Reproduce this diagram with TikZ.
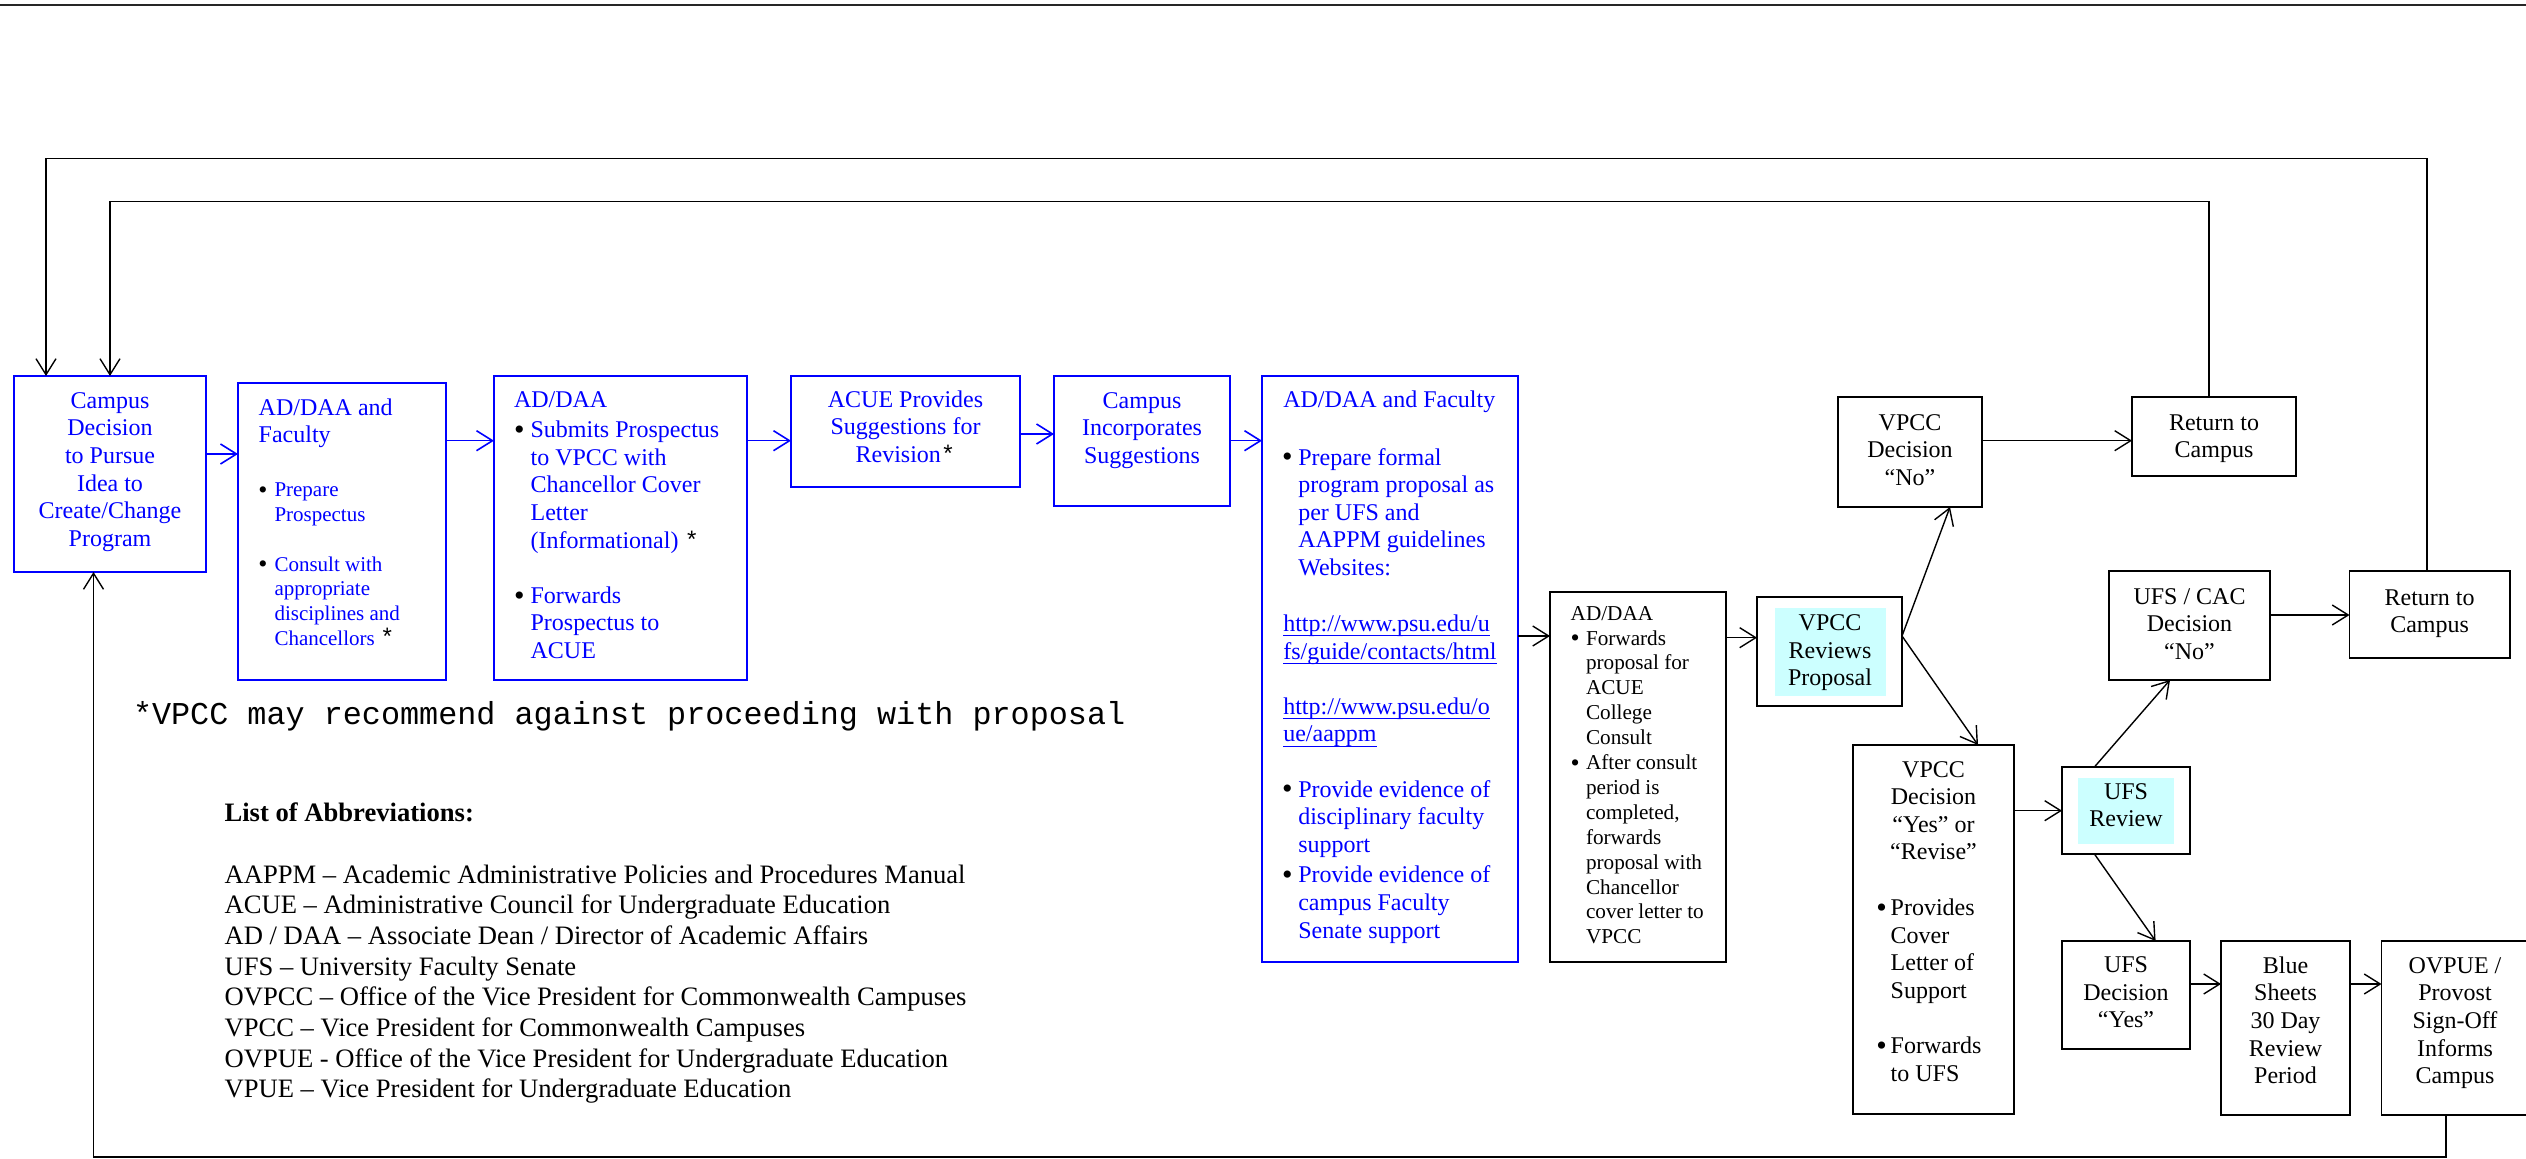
\documentclass[tikz,border=0pt]{standalone}
\usepackage{fontspec}
\setmainfont{Liberation Serif}
\newfontfamily\mono{Liberation Mono}
\usetikzlibrary{arrows.meta,fit}
\definecolor{wblue}{RGB}{0,0,255}
\definecolor{wcyan}{RGB}{204,255,255}
\newcommand\mybul[2]{\llap{\raisebox{-0.9pt}{\fontsize{#2}{0}\selectfont\textcolor{black}{•}}\hspace{#1}}}
\newcommand\myast{{\color{black}\mono\fontsize{12}{13.8}\selectfont *}}
\newcommand\myul[1]{\setbox0\hbox{#1}\rlap{\copy0}\rule[-2.4pt]{\wd0}{0.6pt}}
\begin{document}
\begin{tikzpicture}[x=0.5pt,y=-0.5pt,
  bluebox/.style={draw=wblue,line width=1pt,inner sep=0pt,outer sep=0pt},
  blackbox/.style={draw=black,line width=0.85pt,inner sep=0pt,outer sep=0pt},
  cyanpad/.style={fill=wcyan,inner sep=0pt,outer sep=0pt},
  tx/.style={inner sep=0pt,outer sep=0pt},
  ftw/.style={font=\fontsize{12}{13.8}\selectfont},
  fsm/.style={font=\fontsize{10.5}{12.4}\selectfont},
  fmd/.style={font=\fontsize{10.6}{12.45}\selectfont},
  ctr/.style={tx,ftw,anchor=north,align=center},
  lft/.style={tx,anchor=north west,align=left},
  arr/.style={line width=0.7pt,draw=black,-{Straight Barb[length=8pt,width=10pt]}},
  barr/.style={arr,draw=wblue,line width=0.8pt}
]
\fill[white] (0,0) rectangle (2526,1159);
\useasboundingbox (0,0) rectangle (2526,1159);
\clip (0,0) rectangle (2526,1159);

% top rule
\coordinate (tl) at (0,5);
\coordinate (tr) at (2526,5);
\draw[line width=0.65pt,black!85] (tl) -- (tr);

% boxes
\node[bluebox,fit={(14,376) (206,572)}] (b1) {};
\node[bluebox,fit={(238,383) (446,680)}] (b2) {};
\node[bluebox,fit={(494,376) (747,680)}] (b3) {};
\node[bluebox,fit={(791,376) (1020,487)}] (b4) {};
\node[bluebox,fit={(1054,376) (1230,506)}] (b5) {};
\node[bluebox,fit={(1262,376) (1518,962)}] (b6) {};
\node[blackbox,fit={(1550,592) (1726,962)}] (b7) {};
\node[cyanpad,fit={(1775,608) (1886,696)}] (c8) {};
\node[blackbox,fit={(1757,597) (1902,706)}] (b8) {};
\node[blackbox,fit={(1838,397) (1982,507)}] (b9) {};
\node[blackbox,fit={(2132,397) (2296,476)}] (b10) {};
\node[blackbox,fit={(1853,745) (2014,1114)}] (b11) {};
\node[cyanpad,fit={(2078,778) (2174,844)}] (c12) {};
\node[blackbox,fit={(2062,767) (2190,854)}] (b12) {};
\node[blackbox,fit={(2109,571) (2270,680)}] (b13) {};
\node[blackbox,fit={(2349.5,571) (2509.7,658)}] (b14) {};
\node[blackbox,fit={(2062,941) (2190,1049)}] (b15) {};
\node[blackbox,fit={(2221,941) (2350,1115)}] (b16) {};
\node[blackbox,fit={(2381.5,941) (2533,1115)}] (b17) {};

% texts
\node[ctr,text=wblue] (t1) at (110,389) {\strut Campus\\Decision\\to Pursue\\Idea to\\Create/Change\\Program};

\node[lft,ftw,text=wblue] (t2a) at (258.7,395.7) {\strut AD/DAA and\\Faculty};
\node[lft,fsm,text=wblue] (t2b) at (274.5,479.3) {\strut\mybul{3.5pt}{13}Prepare\\Prospectus\\[12.4pt]\mybul{3.5pt}{13}Consult with\\appropriate\\disciplines and\\Chancellors \myast};

\node[lft,ftw,text=wblue] (t3a) at (514,388.4) {\strut AD/DAA};
\node[lft,ftw,text=wblue] (t3b) at (530.6,418.4) {\strut\mybul{3pt}{15}Submits Prospectus\\to VPCC with\\Chancellor Cover\\Letter\\(Informational) \myast\\[13.8pt]\mybul{3pt}{15}Forwards\\Prospectus to\\ACUE};

\node[ctr,text=wblue] (t4) at (905.5,388) {\strut ACUE Provides\\Suggestions for\\Revision\myast};
\node[ctr,text=wblue] (t5) at (1142,389) {\strut Campus\\Incorporates\\Suggestions};

\node[lft,ftw,text=wblue] (t6a) at (1283.3,388.4) {\strut AD/DAA and Faculty};
\node[lft,ftw,text=wblue] (t6b) at (1298.3,445.7) {\strut\mybul{2.9pt}{15}Prepare formal\\program proposal as\\per UFS and\\AAPPM guidelines\\Websites:};
\node[lft,ftw,text=wblue] (t6c) at (1283.3,612.2) {\strut\myul{http://www.psu.edu/u}\\\myul{fs/guide/contacts/html}\\[13.8pt]\myul{http://www.psu.edu/o}\\\myul{ue/aappm}};
\node[lft,ftw,text=wblue] (t6d) at (1298.3,777.7) {\strut\mybul{2.9pt}{15}Provide evidence of\\disciplinary faculty\\support\\[1.5pt]\mybul{2.9pt}{15}Provide evidence of\\campus Faculty\\Senate support};

\node[lft,fmd] (t7a) at (1570.7,602.6) {\strut AD/DAA};
\node[lft,fmd] (t7b) at (1586,627.6) {\strut\mybul{3.2pt}{13}Forwards\\proposal for\\ACUE\\College\\Consult\\\mybul{3.2pt}{13}After consult\\period is\\completed,\\forwards\\proposal with\\Chancellor\\cover letter to\\VPCC};

\node[ctr] (t8) at (1830,611.2) {\strut VPCC\\Reviews\\Proposal};
\node[ctr] (t9) at (1910,410.7) {\strut VPCC\\Decision\\“No”};
\node[ctr] (t10) at (2214,410.7) {\strut Return to\\Campus};
\node[ctr] (t11a) at (1933.5,757.7) {\strut VPCC\\Decision\\“Yes” or\\“Revise”};
\node[lft,ftw] (t11b) at (1890.7,896.2) {\strut\mybul{1.9pt}{15}Provides\\Cover\\Letter of\\Support\\[13.8pt]\mybul{1.9pt}{15}Forwards\\to UFS};
\node[ctr] (t12) at (2126,780) {\strut UFS\\Review};
\node[ctr] (t13) at (2189.5,584.7) {\strut UFS / CAC\\Decision\\“No”};
\node[ctr] (t14) at (2429.6,585.7) {\strut Return to\\Campus};
\node[ctr] (t15) at (2126,953.4) {\strut UFS\\Decision\\“Yes”};
\node[ctr] (t16) at (2285.5,954) {\strut Blue\\Sheets\\30 Day\\Review\\Period};
\node[ctr] (t17) at (2455,954) {\strut OVPUE /\\Provost\\Sign-Off\\Informs\\Campus};

\node[tx,anchor=base west,font=\mono\fontsize{15.9}{18}\selectfont] (fn) at (133,725) {*VPCC may recommend against proceeding with proposal};

\node[lft,font=\fontsize{13.3}{15.35}\selectfont] (ab) at (224.6,800.2) {\strut\textbf{List of Abbreviations:}\\[15.35pt]
AAPPM – Academic Administrative Policies and Procedures Manual\\
ACUE – Administrative Council for Undergraduate Education\\
AD / DAA – Associate Dean / Director of Academic Affairs\\
UFS – University Faculty Senate\\
OVPCC – Office of the Vice President for Commonwealth Campuses\\
VPCC – Vice President for Commonwealth Campuses\\
OVPUE - Office of the Vice President for Undergraduate Education\\
VPUE – Vice President for Undergraduate Education};

% row levels
\coordinate (r454) at (0,454);
\coordinate (r441) at (0,440.7);
\coordinate (r434) at (0,434);
\coordinate (r636) at (0,636);
\coordinate (r638) at (0,637.7);
\coordinate (r811) at (0,810.7);
\coordinate (r615) at (0,615);
\coordinate (r984) at (0,984);

% connectors
\draw[barr] (b1.east |- r454) -- (b2.west |- r454);
\draw[barr] (b2.east |- r441) -- (b3.west |- r441);
\draw[barr] (b3.east |- r441) -- (b4.west |- r441);
\draw[barr] (b4.east |- r434) -- (b5.west |- r434);
\draw[barr] (b5.east |- r441) -- (b6.west |- r441);
\draw[arr] (b6.east |- r636) -- (b7.west |- r636);
\draw[arr] (b7.east |- r638) -- (b8.west |- r638);
\coordinate (d8) at (b8.east |- r636);
\draw[arr] (d8) -- ([xshift=20pt]b9.south);
\draw[arr] (d8) -- ([xshift=22.25pt]b11.north);
\draw[arr] (b9.east |- r441) -- (b10.west |- r441);
\draw[arr] (b11.east |- r811) -- (b12.west |- r811);
\draw[arr] ([xshift=-15.8pt]b12.north) -- ([xshift=-9.75pt]b13.south);
\draw[arr] ([xshift=-15.8pt]b12.south) -- ([xshift=14.8pt]b15.north);
\draw[arr] (b13.east |- r615) -- (b14.west |- r615);
\draw[arr] (b15.east |- r984) -- (b16.west |- r984);
\draw[arr] (b16.east |- r984) -- (b17.west |- r984);

% return loops
\coordinate (cO) at (46,158.7);
\coordinate (cI) at (110,201.7);
\coordinate (cB) at (93.5,1157);
\draw[arr] ([xshift=-1.3pt]b14.north) |- (cO) -- (cO |- b1.north);
\draw[arr] ([xshift=-2.5pt]b10.north) |- (cI) -- (cI |- b1.north);
\draw[arr] ([xshift=-5.7pt]b17.south) |- (cB) -- (cB |- b1.south);
\end{tikzpicture}
\end{document}
